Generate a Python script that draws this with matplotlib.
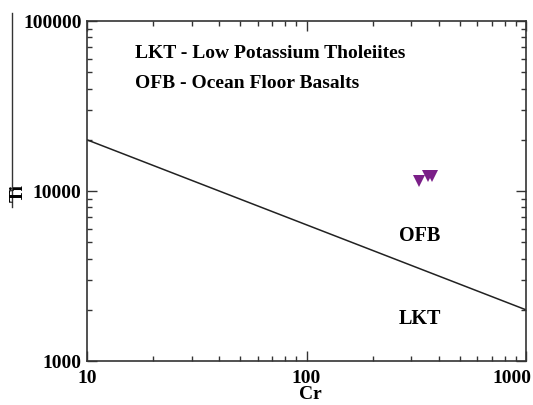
import matplotlib
matplotlib.use('Agg')
import matplotlib.pyplot as plt
import matplotlib.transforms as mtransforms
from matplotlib.lines import Line2D
from matplotlib.ticker import FixedLocator, FixedFormatter, LogLocator, NullFormatter

# граница LKT / OFB (Pearce, 1975)
line_cr = [10, 1000]
line_ti = [20000, 2000]

# образцы
sample_cr = [327, 358, 373]
sample_ti = [11450, 12250, 12250]

x_ticks = [10, 100, 1000]
x_labels = ['10', '100', '1000']
y_ticks = [1000, 10000, 100000]
y_labels = ['1000', '10000', '100000']

plt.rcParams['font.family'] = ['Liberation Serif', 'DejaVu Serif']
plt.rcParams['font.weight'] = 'bold'

fig = plt.figure(figsize=(5.33, 4.06), dpi=100)
ax = fig.add_axes([87/533, 1-362/406, 439/533, 340/406])

ax.plot(line_cr, line_ti, color='#222222', lw=1.1)
ax.plot(sample_cr, sample_ti, 'v', color='#7b1f88', markersize=8.5, markeredgewidth=0)

ax.set_xscale('log')
ax.set_yscale('log')
ax.set_xlim(10, 1000)
ax.set_ylim(1000, 100000)

ax.xaxis.set_major_locator(FixedLocator(x_ticks))
ax.xaxis.set_major_formatter(FixedFormatter(x_labels))
ax.yaxis.set_major_locator(FixedLocator(y_ticks))
ax.yaxis.set_major_formatter(FixedFormatter(y_labels))
ax.xaxis.set_minor_locator(LogLocator(base=10, subs=range(2, 10)))
ax.yaxis.set_minor_locator(LogLocator(base=10, subs=range(2, 10)))
ax.xaxis.set_minor_formatter(NullFormatter())
ax.yaxis.set_minor_formatter(NullFormatter())

ax.tick_params(which='both', direction='in', top=True, right=True, width=1, color='#333333')
ax.tick_params(which='major', length=7, labelsize=14, pad=4)
ax.tick_params(axis='x', which='major', pad=6)
ax.tick_params(which='minor', length=3.6)
for lab in ax.get_xticklabels() + ax.get_yticklabels():
    lab.set_fontweight('bold')
for s in ax.spines.values():
    s.set_linewidth(1.2)
    s.set_color('#333333')

# последняя подпись "1000" сдвинута влево, как на оригинале
fig.canvas.draw()
last = ax.get_xticklabels()[-1]
last.set_ha('right')
last.set_transform(last.get_transform() + mtransforms.ScaledTranslation(5/100, 0, fig.dpi_scale_trans))

fig.text(310/533, 1-395/406, 'Cr', fontsize=14, fontweight='bold', ha='center', va='center')
fig.text(18/533, 1-193/406, 'Ti', fontsize=14, fontweight='bold', ha='center', va='center', rotation=90)

ax.text(0.11, 0.907, 'LKT - Low Potassium Tholeiites', transform=ax.transAxes,
        fontsize=14, fontweight='bold', va='center', ha='left')
ax.text(0.11, 0.818, 'OFB - Ocean Floor Basalts', transform=ax.transAxes,
        fontsize=14, fontweight='bold', va='center', ha='left')
ax.text(327, 5500, 'OFB', fontsize=14.5, fontweight='bold', ha='center', va='center')
ax.text(327, 1800, 'LKT', fontsize=14.5, fontweight='bold', ha='center', va='center')

# вертикальная линия слева (как на оригинале)
fig.add_artist(Line2D([12/533, 12/533], [1-14/406, 1-208/406], color='#333333', lw=1))

fig.savefig('out.png', dpi=100)
